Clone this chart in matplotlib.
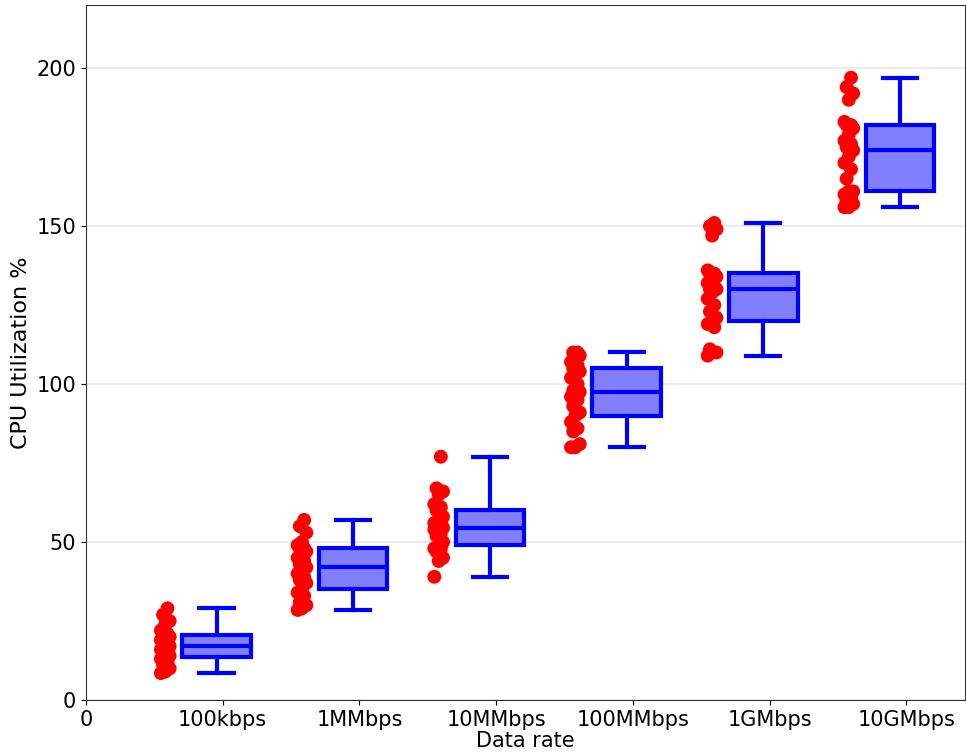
import numpy as np
import matplotlib.pyplot as plt

# ------------------------------
# Dati (CPU % per data rate)
# ------------------------------
categorie = ['100kbps', '1MMbps', '10MMbps', '100MMbps', '1GMbps', '10GMbps']

cpu_100k = [8.5, 9, 10, 11, 12, 13, 13.5, 14, 15, 15, 16, 16.5, 17, 18, 18,
            19, 19.5, 20, 20.5, 21, 22, 24, 25, 27, 29]
cpu_1M = [28.5, 29, 30, 31, 33, 34, 35, 37, 38, 39, 40, 41, 42, 43, 44,
          45, 46, 47, 48, 48, 49, 50, 53, 55, 57]
cpu_10M = [39, 44, 45, 47, 48, 48, 49, 50, 52, 53, 54, 54, 54.5, 55, 56,
           56, 57, 58, 60, 61, 62, 65, 66, 67, 77]
cpu_100M = [80, 80, 81, 85, 86, 88, 90, 91, 93, 95, 96, 97, 97.5, 98, 100,
            102, 103, 104, 105, 106, 107, 108, 109, 110, 110]
cpu_1G = [109, 110, 110, 111, 118, 119, 120, 121, 123, 125, 127, 129, 130, 130, 131,
          132, 133, 134, 135, 135, 136, 147, 149, 150, 151]
cpu_10G = [156, 156, 157, 158, 159, 160, 161, 161, 165, 168, 170, 172, 174, 175, 176,
           177, 179, 181, 182, 182, 183, 190, 192, 194, 197]

dati = [cpu_100k, cpu_1M, cpu_10M, cpu_100M, cpu_1G, cpu_10G]

# ------------------------------
# Plot
# ------------------------------
fig = plt.figure(figsize=(9.66, 7.53), dpi=100)
ax = fig.add_axes([0.089, 0.0704, 0.910, 0.923])

pos = np.arange(1, len(dati) + 1)

# punti (jitter deterministico a sinistra dei box)
for i, vals in enumerate(dati):
    vals = np.array(vals)
    jit = ((np.arange(len(vals)) * 7) % 5 - 2) * 0.016
    ax.scatter(pos[i] - 0.42 + jit, vals, c='red', s=100, edgecolors='none', zorder=3)

blu = '#0000ff'
ax.boxplot(dati, positions=pos - 0.045, widths=0.5, whis=(0, 100),
           showfliers=False, patch_artist=True,
           boxprops=dict(facecolor='#8080ff', edgecolor=blu, linewidth=3),
           medianprops=dict(color=blu, linewidth=3),
           whiskerprops=dict(color=blu, linewidth=3),
           capprops=dict(color=blu, linewidth=3))

ax.set_xlim(0, 6.43)
ax.set_ylim(0, 220)
ax.set_xticks(np.arange(0, 7))
ax.set_xticklabels(['0'] + categorie, fontsize=15)
ax.set_yticks([0, 50, 100, 150, 200])
ax.tick_params(axis='y', labelsize=15)
ax.set_xlabel('Data rate', fontsize=15, labelpad=1)
ax.set_ylabel('CPU Utilization %', fontsize=16)
ax.grid(True, axis='y', color='#ebebeb', linewidth=1.5)
ax.set_axisbelow(True)
for s in ax.spines.values():
    s.set_color('#333333')

plt.savefig('out.png')
